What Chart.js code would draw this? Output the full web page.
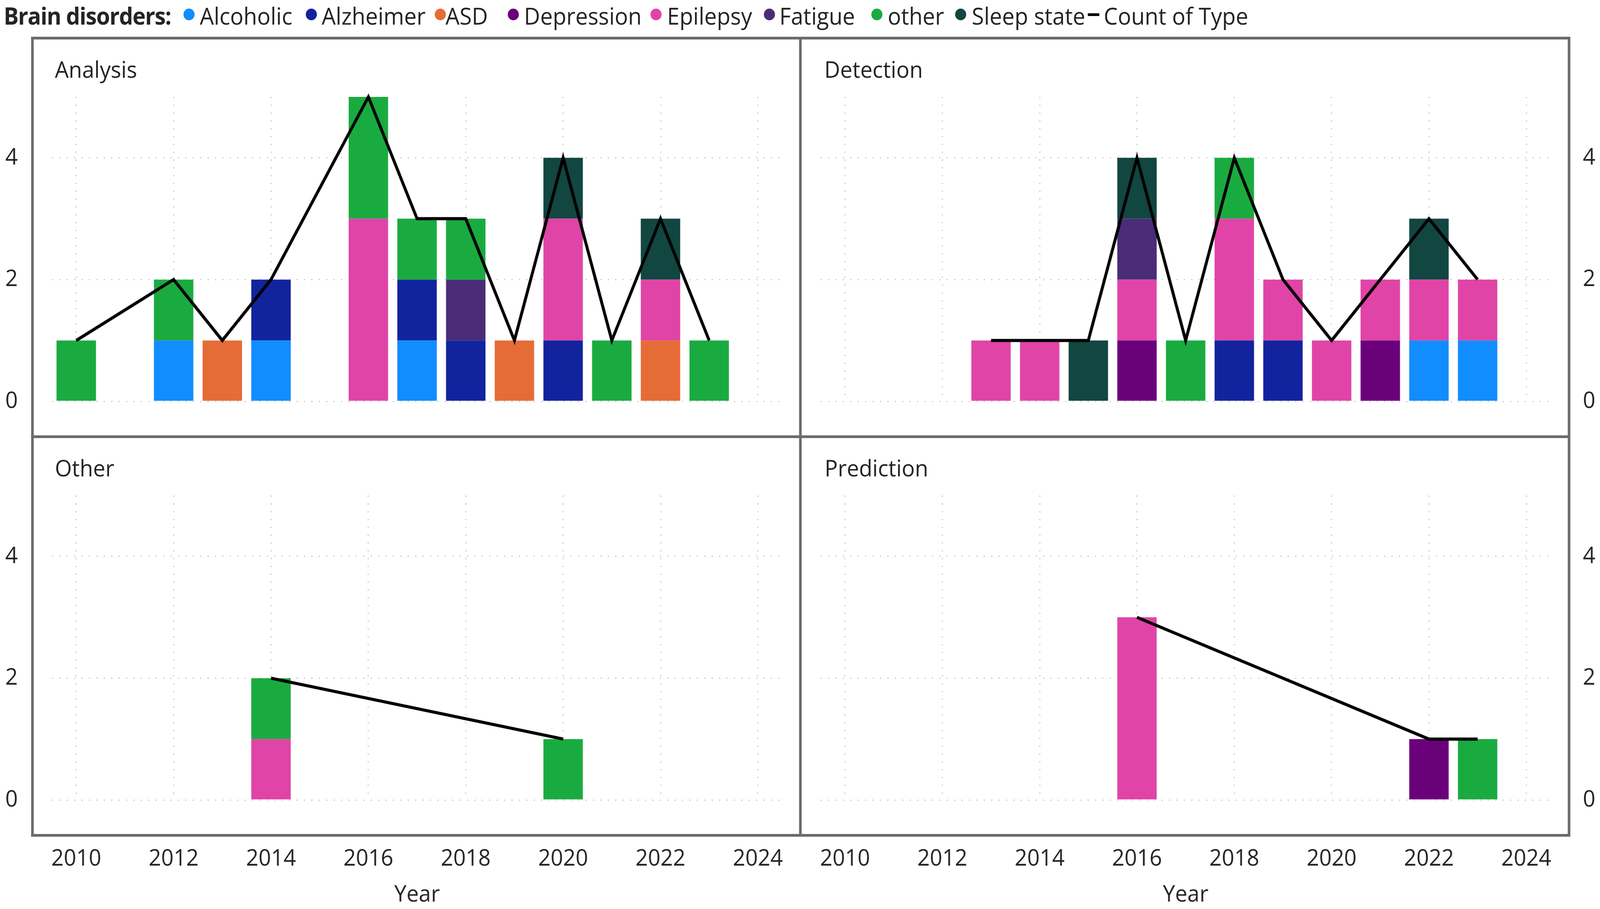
<!DOCTYPE html>
<html>
<head>
<meta charset="utf-8">
<script src="https://cdn.jsdelivr.net/npm/chart.js@4.4.1/dist/chart.umd.min.js"></script>
<style>
  html, body { margin:0; padding:0; background:#fff; overflow:hidden; }
  #page { position:absolute; left:0; top:0; width:4317px; height:2326px; transform-origin:0 0;
          font-family:'Open Sans', sans-serif; color:#252423; }
  canvas { position:absolute; }
  .lg-text { position:absolute; top:10px; font-size:60px; line-height:60px; white-space:nowrap; }
  .lg-dot { position:absolute; top:22px; width:30px; height:30px; border-radius:50%; }
  .panel-title { position:absolute; font-size:59px; line-height:59px; white-space:nowrap; }
  .frame { position:absolute; background:#6b6b6b; }
</style>
</head>
<body>
<div id="page">
<div id="legend"></div>

<canvas id="cAnalysis" width="2159" height="1020" style="left:0;top:97px;width:2159px;height:1020px"></canvas>
<canvas id="cDetection" width="2158" height="1020" style="left:2159px;top:97px;width:2158px;height:1020px"></canvas>
<canvas id="cOther" width="2159" height="1209" style="left:0;top:1117px;width:2159px;height:1209px"></canvas>
<canvas id="cPrediction" width="2158" height="1209" style="left:2159px;top:1117px;width:2158px;height:1209px"></canvas>

<div class="panel-title" style="left:148px;top:147px">Analysis</div>
<div class="panel-title" style="left:2224px;top:147px">Detection</div>
<div class="panel-title" style="left:148px;top:1167px">Other</div>
<div class="panel-title" style="left:2225px;top:1167px">Prediction</div>

<!-- panel frame -->
<div class="frame" style="left:84px;top:94px;width:4153px;height:7px"></div>
<div class="frame" style="left:84px;top:2134px;width:4153px;height:7px"></div>
<div class="frame" style="left:84px;top:94px;width:7px;height:2047px"></div>
<div class="frame" style="left:4230px;top:94px;width:7px;height:2047px"></div>
<div class="frame" style="left:2156px;top:94px;width:7px;height:2047px"></div>
<div class="frame" style="left:84px;top:1114px;width:4153px;height:7px"></div>
</div>

<script>
const _ = null;

// x categories and y ticks
const years = ['2010','2011','2012','2013','2014','2015','2016','2017','2018','2019','2020','2021','2022','2023','2024'];
const yTicks = [0, 2, 4];

// series
const disorders = ['Alcoholic','Alzheimer','ASD','Depression','Epilepsy','Fatigue','other','Sleep state'];
const disorderColors = ['#118DFF','#12239E','#E66C37','#6B007B','#E044A7','#4A2C77','#1AAB40','#124641'];

// Analysis (one row per disorder, one column per year)
const analysisValues = [
  [_,_,1,_,1,_,_,1,_,_,_,_,_,_,_],
  [_,_,_,_,1,_,_,1,1,_,1,_,_,_,_],
  [_,_,_,1,_,_,_,_,_,1,_,_,1,_,_],
  [_,_,_,_,_,_,_,_,_,_,_,_,_,_,_],
  [_,_,_,_,_,_,3,_,_,_,2,_,1,_,_],
  [_,_,_,_,_,_,_,_,1,_,_,_,_,_,_],
  [1,_,1,_,_,_,2,1,1,_,_,1,_,1,_],
  [_,_,_,_,_,_,_,_,_,_,1,_,1,_,_]
];
const analysisCount = [1,_,2,1,2,_,5,3,3,1,4,1,3,1,_];

// Detection
const detectionValues = [
  [_,_,_,_,_,_,_,_,_,_,_,_,1,1,_],
  [_,_,_,_,_,_,_,_,1,1,_,_,_,_,_],
  [_,_,_,_,_,_,_,_,_,_,_,_,_,_,_],
  [_,_,_,_,_,_,1,_,_,_,_,1,_,_,_],
  [_,_,_,1,1,_,1,_,2,1,1,1,1,1,_],
  [_,_,_,_,_,_,1,_,_,_,_,_,_,_,_],
  [_,_,_,_,_,_,_,1,1,_,_,_,_,_,_],
  [_,_,_,_,_,1,1,_,_,_,_,_,1,_,_]
];
const detectionCount = [_,_,_,1,1,1,4,1,4,2,1,2,3,2,_];

// Other
const otherValues = [
  [_,_,_,_,_,_,_,_,_,_,_,_,_,_,_],
  [_,_,_,_,_,_,_,_,_,_,_,_,_,_,_],
  [_,_,_,_,_,_,_,_,_,_,_,_,_,_,_],
  [_,_,_,_,_,_,_,_,_,_,_,_,_,_,_],
  [_,_,_,_,1,_,_,_,_,_,_,_,_,_,_],
  [_,_,_,_,_,_,_,_,_,_,_,_,_,_,_],
  [_,_,_,_,1,_,_,_,_,_,1,_,_,_,_],
  [_,_,_,_,_,_,_,_,_,_,_,_,_,_,_]
];
const otherCount = [_,_,_,_,2,_,_,_,_,_,1,_,_,_,_];

// Prediction
const predictionValues = [
  [_,_,_,_,_,_,_,_,_,_,_,_,_,_,_],
  [_,_,_,_,_,_,_,_,_,_,_,_,_,_,_],
  [_,_,_,_,_,_,_,_,_,_,_,_,_,_,_],
  [_,_,_,_,_,_,_,_,_,_,_,_,1,_,_],
  [_,_,_,_,_,_,3,_,_,_,_,_,_,_,_],
  [_,_,_,_,_,_,_,_,_,_,_,_,_,_,_],
  [_,_,_,_,_,_,_,_,_,_,_,_,_,1,_],
  [_,_,_,_,_,_,_,_,_,_,_,_,_,_,_]
];
const predictionCount = [_,_,_,_,_,_,3,_,_,_,_,_,1,1,_];

// stretch the 4317x2326 layout over whatever the viewport really is
const page = document.getElementById('page');
const sx = window.innerWidth / 4317;
const sy = window.innerHeight / 2326;
page.style.transform = `scale(${sx}, ${sy})`;

// legend (html, positioned like the original)
const legend = document.getElementById('legend');
const dotLeft = [495, 825, 1173, 1370, 1755, 2061, 2351, 2577];
const textLeft = [539, 868, 1202, 1414, 1800, 2103, 2395, 2622];
let html = '<div class="lg-text" style="left:10px;font-weight:700;letter-spacing:-1.5px">Brain disorders:</div>';
disorders.forEach((name, i) => {
  html += `<div class="lg-dot" style="left:${dotLeft[i]}px;background:${disorderColors[i]}"></div>`;
  html += `<div class="lg-text" style="left:${textLeft[i]}px">${name}</div>`;
});
html += '<div style="position:absolute;left:2935px;top:34px;width:31px;height:7px;background:#000"></div>';
html += '<div class="lg-text" style="left:2978px">Count of Type</div>';
legend.innerHTML = html;

Chart.defaults.font.family = "'Open Sans', sans-serif";
Chart.defaults.font.size = 59;
Chart.defaults.color = '#252423';

const gridGray = '#c4c4c4';
const clear = 'rgba(0,0,0,0)';

function makeChart(id, values, counts, side, showX) {
  const datasets = disorders.map((name, i) => ({
    label: name,
    data: values[i],
    backgroundColor: disorderColors[i],
    borderWidth: 0,
    barPercentage: 0.81,
    categoryPercentage: 1,
    order: 1
  }));
  datasets.push({
    type: 'line',
    label: 'Count of Type',
    data: counts,
    borderColor: '#000',
    borderWidth: 8,
    pointRadius: 0,
    tension: 0,
    spanGaps: true,
    clip: false,
    stack: 'count',
    order: 0
  });

  new Chart(document.getElementById(id), {
    type: 'bar',
    data: { labels: years, datasets: datasets },
    options: {
      responsive: false,
      animation: false,
      devicePixelRatio: 1,
      layout: {
        padding: {
          left: side === 'left' ? 0 : 55.3,
          right: side === 'left' ? 48.5 : 0,
          top: 151,
          bottom: showX ? 0 : 90
        }
      },
      plugins: { legend: { display: false }, tooltip: { enabled: false } },
      scales: {
        x: {
          stacked: true,
          offset: true,
          grid: {
            offset: false,
            drawTicks: showX,
            tickLength: 116,          // pushes the year labels below the frame
            tickColor: clear,
            lineWidth: 3,
            color: ctx => (ctx.index % 2 === 0 ? gridGray : clear)
          },
          border: { display: false, dash: [3, 17] },
          ticks: {
            display: showX,
            autoSkip: false,
            maxRotation: 0,
            padding: 0,
            callback: (v, i) => (i % 2 === 0 ? years[i] : '')
          },
          title: {
            display: showX,
            text: 'Year',
            font: { lineHeight: 1 },
            padding: { top: 0, bottom: 6 }
          },
          afterFit: s => { if (showX) s.height = 279; }
        },
        y: {
          stacked: true,
          position: side,
          min: 0,
          max: 5,
          afterBuildTicks: s => { s.ticks = yTicks.map(v => ({ value: v })); },
          afterFit: s => { s.width = side === 'left' ? 140 : 133.3; },
          grid: {
            color: gridGray,
            lineWidth: 3,
            drawTicks: true,
            tickLength: side === 'left' ? 92 : 87,   // keeps labels outside the frame
            tickColor: clear
          },
          border: { display: false, dash: [3, 17] },
          ticks: { padding: 0 }
        }
      }
    }
  });
}

makeChart('cAnalysis', analysisValues, analysisCount, 'left', false);
makeChart('cDetection', detectionValues, detectionCount, 'right', false);
makeChart('cOther', otherValues, otherCount, 'left', true);
makeChart('cPrediction', predictionValues, predictionCount, 'right', true);
</script>
</body>
</html>
